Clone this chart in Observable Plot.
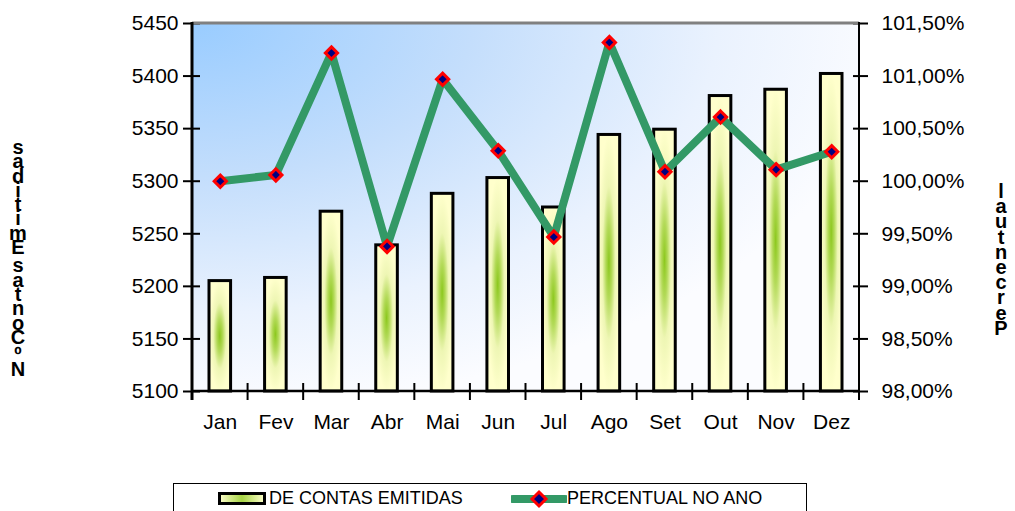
<!DOCTYPE html>
<html>
<head>
<meta charset="utf-8">
<script src="https://cdn.jsdelivr.net/npm/d3@7"></script>
<script src="https://cdn.jsdelivr.net/npm/@observablehq/plot@0.6"></script>
<style>
  html, body { margin: 0; padding: 0; background: #ffffff; overflow: hidden; }
  #wrap { position: relative; width: 1015px; height: 511px; font-family: "Liberation Sans", Arial, sans-serif; color: #000; }
  #chart { position: absolute; left: 0; top: 0; }
  #title { position: absolute; left: 0; width: 1000px; top: -21px; text-align: center; font-size: 22px; color: #222; }
  .vlabel { position: absolute; width: 28px; font-weight: bold; font-size: 20px; text-align: center; }
  .vlabel div.sp { height: 4px; }
  #legend { position: absolute; left: 173px; top: 483px; width: 632px; height: 60px; border: 1.5px solid #000; background: #fff; }
  #legend .item { position: absolute; top: 4px; font-size: 18px; line-height: 20px; white-space: nowrap; }
  #legend svg { position: absolute; }
</style>
</head>
<body>
<div id="wrap">
  <div id="title">Contas Emitidas</div>
  <div id="chart"></div>
  <div id="labelLeft" class="vlabel"></div>
  <div id="labelRight" class="vlabel"></div>
  <div id="legend"></div>
</div>
<script>
// ---- data ----
const months = ["Jan", "Fev", "Mar", "Abr", "Mai", "Jun", "Jul", "Ago", "Set", "Out", "Nov", "Dez"];
const contas = [5205, 5208, 5271, 5239, 5288, 5303, 5275, 5344, 5349, 5381, 5387, 5402];
const percentual = [100.00, 100.06, 101.22, 99.38, 100.97, 100.29, 99.47, 101.32, 100.09, 100.61, 100.11, 100.28];
const yTicks = [5100, 5150, 5200, 5250, 5300, 5350, 5400, 5450];
const pctTicks = [98.0, 98.5, 99.0, 99.5, 100.0, 100.5, 101.0, 101.5];
const leftLabel = "Nº Contas Emitidas";
const rightLabel = "Percentual";
const seriesNames = ["DE CONTAS EMITIDAS", "PERCENTUAL NO ANO"];

// map percent axis (98%..101.5%) onto the left domain (5100..5450)
const pctToY = p => yTicks[0] + (p - pctTicks[0]) * (yTicks[yTicks.length - 1] - yTicks[0]) / (pctTicks[pctTicks.length - 1] - pctTicks[0]);
const yToPct = v => pctTicks[0] + (v - yTicks[0]) * (pctTicks[pctTicks.length - 1] - pctTicks[0]) / (yTicks[yTicks.length - 1] - yTicks[0]);
const fmtPct = v => yToPct(v).toFixed(2).replace(".", ",") + "%";

const data = months.map((m, i) => ({mes: m, contas: contas[i], pct: percentual[i], py: pctToY(percentual[i])}));

const LINE_COLOR = "#339966";

function defs() {
  const d = d3.create("svg:defs");
  const bg = d.append("radialGradient").attr("id", "bgGrad")
    .attr("cx", 0).attr("cy", 0).attr("fx", 0).attr("fy", 0).attr("r", 1.05);
  [[0, "#99ccff"], [0.4, "#c4defc"], [0.75, "#eaf2fe"], [1, "#fbfcff"]].forEach(([o, c]) =>
    bg.append("stop").attr("offset", o).attr("stop-color", c));
  const bar = d.append("radialGradient").attr("id", "barGrad")
    .attr("cx", 0.5).attr("cy", 0.5).attr("r", 0.5);
  [[0, "#8cc81e"], [0.28, "#b3da58"], [0.6, "#eef6b4"], [1, "#ffffcc"]].forEach(([o, c]) =>
    bar.append("stop").attr("offset", o).attr("stop-color", c));
  return d.node();
}

function axisLines(index, scales, values, dims) {
  const {width, height, marginTop, marginRight, marginBottom, marginLeft} = dims;
  const L = marginLeft, R = width - marginRight, T = marginTop, B = height - marginBottom;
  const g = d3.create("svg:g").attr("fill", "none");
  g.append("line").attr("x1", L).attr("x2", R).attr("y1", T).attr("y2", T)
    .attr("stroke", "#808080").attr("stroke-width", 3);
  g.append("line").attr("x1", L).attr("x2", R).attr("y1", B).attr("y2", B)
    .attr("stroke", "#000").attr("stroke-width", 2.5);
  g.append("line").attr("x1", L).attr("x2", L).attr("y1", T - 1).attr("y2", B + 9)
    .attr("stroke", "#000").attr("stroke-width", 3);
  g.append("line").attr("x1", R).attr("x2", R).attr("y1", T - 1).attr("y2", B + 9)
    .attr("stroke", "#000").attr("stroke-width", 2);
  return g.node();
}

// category boundary ticks, placed via the x band scale (zero padding -> band starts are boundaries)
function boundaryTicks(index, scales, values, dims) {
  const {height, marginBottom} = dims;
  const B = height - marginBottom;
  const g = d3.create("svg:g").attr("stroke", "#000").attr("stroke-width", 2);
  const sx = scales.x;
  months.slice(1).forEach(m => {
    const bx = sx(m);
    g.append("line").attr("x1", bx).attr("x2", bx).attr("y1", B - 8).attr("y2", B + 9);
  });
  return g.node();
}

const chart = Plot.plot({
  width: 1015,
  height: 440,
  marginLeft: 192,
  marginRight: 156,
  marginTop: 23,
  marginBottom: 49,
  style: {fontFamily: "'Liberation Sans', Arial, sans-serif", fontSize: "21px", color: "#000", background: "transparent", overflow: "visible"},
  x: {domain: months, padding: 0, round: false, label: null},
  y: {domain: [yTicks[0], yTicks[yTicks.length - 1]], label: null},
  marks: [
    defs,
    Plot.frame({fill: "url(#bgGrad)", stroke: "none"}),
    Plot.barY(data, {x: "mes", y1: yTicks[0], y2: "contas", fill: "url(#barGrad)", stroke: "#000", strokeWidth: 3, insetLeft: 17, insetRight: 17}),
    Plot.line(data, {x: "mes", y: "py", stroke: LINE_COLOR, strokeWidth: 8}),
    Plot.dot(data, {x: "mes", y: "py", symbol: "diamond2", r: 5.5, fill: "#000080", stroke: "#ff0000", strokeWidth: 3}),
    Plot.axisY({anchor: "left", ticks: yTicks, tickFormat: d => String(d), tickSize: 17, dx: 8, tickPadding: 5, strokeWidth: 2, fontSize: 21, label: null}),
    Plot.axisY({anchor: "right", ticks: yTicks, tickFormat: fmtPct, tickSize: 15, dx: -7, tickPadding: 14, strokeWidth: 2, fontSize: 21, label: null}),
    Plot.axisX({tickSize: 0, tickPadding: 23, fontSize: 21, label: null}),
    axisLines,
    boundaryTicks
  ]
});
document.getElementById("chart").appendChild(chart);

// stacked vertical axis titles (letters upright, bottom-to-top)
function stack(el, text, left, top, step) {
  el.style.left = left + "px";
  el.style.top = top + "px";
  Array.from(text).reverse().forEach(ch => {
    const d = document.createElement("div");
    if (ch === " ") { d.className = "sp"; }
    else { d.textContent = ch; d.style.height = step + "px"; d.style.lineHeight = step + "px"; }
    el.appendChild(d);
  });
}
stack(document.getElementById("labelLeft"), leftLabel, 4, 140, 14.3);
stack(document.getElementById("labelRight"), rightLabel, 987, 184, 15.2);

// legend
const lg = document.getElementById("legend");
lg.innerHTML = `
  <svg style="left:44px;top:8px" width="50" height="14">
    <defs><linearGradient id="lgBar" x1="0" x2="1" y1="0" y2="0">
      <stop offset="0" stop-color="#ffffcc"/><stop offset="0.5" stop-color="#a6d444"/><stop offset="1" stop-color="#ffffcc"/>
    </linearGradient></defs>
    <rect x="1.5" y="1.5" width="45" height="10" fill="url(#lgBar)" stroke="#000" stroke-width="3"/>
  </svg>
  <div class="item" style="left:95px">${seriesNames[0]}</div>
  <svg style="left:337px;top:5px" width="56" height="20">
    <line x1="2" x2="54" y1="10" y2="10" stroke="${LINE_COLOR}" stroke-width="8" stroke-linecap="round"/>
    <path d="M28,3 L35,10 L28,17 L21,10 Z" fill="#000080" stroke="#ff0000" stroke-width="3"/>
  </svg>
  <div class="item" style="left:393px">${seriesNames[1]}</div>
`;
</script>
</body>
</html>
